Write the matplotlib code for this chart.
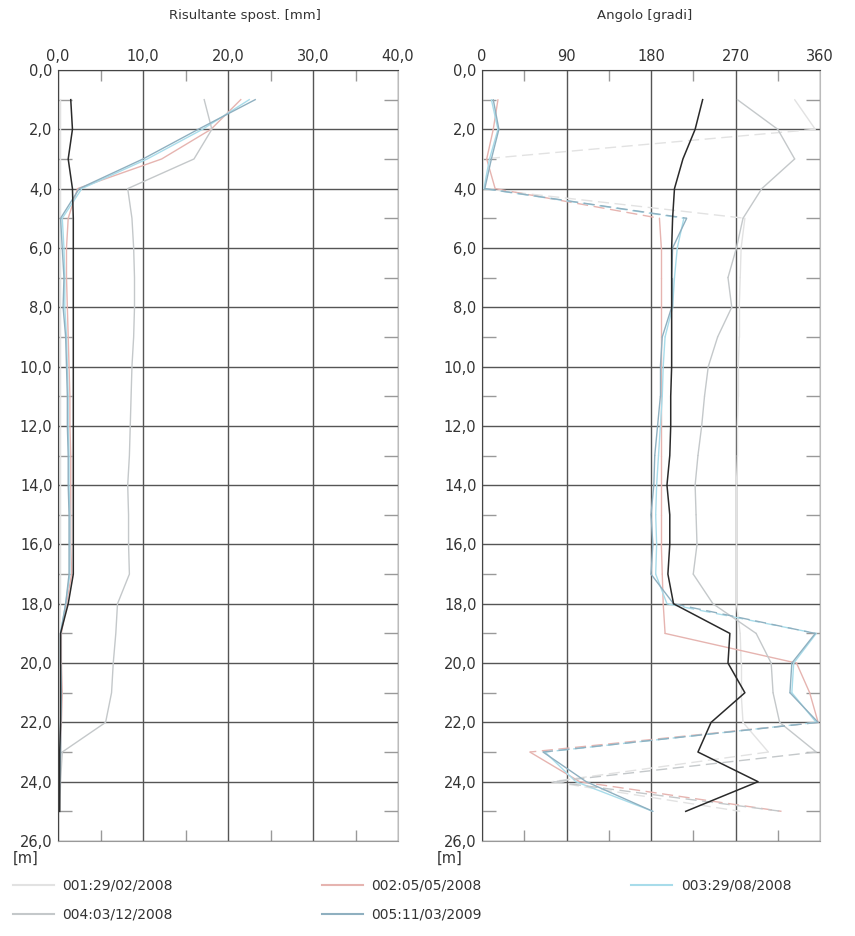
import matplotlib
matplotlib.use("Agg")
import matplotlib.pyplot as plt
from matplotlib.ticker import FixedLocator, FuncFormatter
import numpy as np

plt.rcParams['font.family'] = ['DejaVu Sans']
plt.rcParams['font.sans-serif'] = ['DejaVu Sans']

depth = list(range(1, 26))

labels = ["001:29/02/2008", "002:05/05/2008", "003:29/08/2008",
          "004:03/12/2008", "005:11/03/2009"]
colors = ["#e2e2e2", "#e6b4b0", "#a8dcea", "#c4c8ca", "#8fb0c0"]

# Resultant displacement [mm]
disp_ref = [1.5, 1.7, 1.2, 1.7, 1.8, 1.8, 1.8, 1.8, 1.8, 1.8, 1.8, 1.8, 1.8,
            1.8, 1.8, 1.8, 1.8, 1.2, 0.3, 0.3, 0.3, 0.3, 0.2, 0.2, 0.2]
disp_001 = [0.3, 0.3, 0.3, 0.3, 0.3, 0.3, 0.3, 0.3, 0.3, 0.3, 0.3, 0.3, 0.3,
            0.3, 0.3, 0.3, 0.3, 0.3, 0.2, 0.2, 0.2, 0.2, 0.2, 0.1, 0.1]
disp_002 = [21.5, 18.0, 12.2, 2.3, 1.2, 1.0, 1.0, 1.1, 1.2, 1.3, 1.4, 1.4, 1.5,
            1.5, 1.5, 1.5, 1.6, 1.0, 0.4, 0.4, 0.5, 0.4, 0.3, 0.2, 0.1]
disp_003 = [22.5, 17.0, 10.5, 2.8, 0.5, 0.7, 0.8, 0.8, 1.0, 1.1, 1.2, 1.2, 1.3,
            1.3, 1.4, 1.4, 1.4, 0.9, 0.3, 0.3, 0.4, 0.3, 0.3, 0.2, 0.1]
disp_004 = [17.2, 18.1, 16.0, 8.2, 8.7, 8.9, 9.0, 9.0, 8.9, 8.7, 8.6, 8.5, 8.4,
            8.2, 8.3, 8.3, 8.4, 7.0, 6.8, 6.5, 6.3, 5.6, 0.5, 0.3, 0.2]
disp_005 = [23.2, 16.5, 10.0, 2.5, 0.3, 0.5, 0.7, 0.6, 0.9, 1.0, 1.1, 1.1, 1.2,
            1.2, 1.3, 1.3, 1.3, 0.9, 0.3, 0.3, 0.4, 0.3, 0.3, 0.2, 0.1]

# Angle [degrees]
ang_ref = [235, 227, 214, 205, 203, 202, 202, 202, 202, 202, 201, 201, 200,
           197, 200, 200, 198, 204, 264, 262, 280, 244, 230, 294, 217]
ang_001 = [333, 355, 1, 0, 280, 276, 275, 274, 274, 273, 273, 272, 272,
           271, 271, 271, 271, 271, 275, 276, 276, 278, 305, 74, 275]
ang_002 = [17, 12, 5, 14, 189, 191, 191, 191, 191, 191, 191, 191, 191,
           191, 191, 191, 192, 193, 195, 335, 349, 358, 51, 104, 319]
ang_003 = [10, 17, 8, 2, 215, 208, 205, 203, 195, 193, 192, 190, 188,
           186, 185, 186, 185, 197, 356, 332, 330, 356, 67, 100, 182]
ang_004 = [272, 315, 333, 298, 278, 271, 262, 266, 251, 241, 237, 234, 230,
           227, 228, 229, 225, 246, 292, 308, 310, 317, 356, 76, 319]
ang_005 = [12, 18, 10, 3, 218, 203, 202, 202, 192, 190, 190, 187, 184,
           183, 180, 182, 180, 204, 355, 330, 328, 358, 65, 111, 182]

disp_series = [disp_001, disp_002, disp_003, disp_004, disp_005]
ang_series = [ang_001, ang_002, ang_003, ang_004, ang_005]

W, H = 855, 936
fig = plt.figure(figsize=(W / 100, H / 100), dpi=100)

def fx(px):
    return px / W

def fy(py):
    return 1 - py / H

ax1 = fig.add_axes([fx(58), fy(841), fx(398 - 58), (841 - 70) / H])
ax2 = fig.add_axes([fx(482), fy(841), fx(820 - 482), (841 - 70) / H])

grid_col = "#555555"
for ax in (ax1, ax2):
    ax.set_ylim(26, 0)
    ax.yaxis.set_major_locator(FixedLocator(np.arange(0, 27, 2)))
    ax.yaxis.set_minor_locator(FixedLocator(np.arange(1, 26, 2)))
    ax.yaxis.set_major_formatter(FuncFormatter(lambda v, p: f"{v:.1f}".replace(".", ",")))
    ax.xaxis.tick_top()
    ax.grid(True, which="major", color=grid_col, linewidth=1.0)
    ax.tick_params(axis="both", which="major", labelsize=10.5, length=0,
                   colors="#333333", pad=4)
    ax.tick_params(axis="y", which="minor", direction="in", length=10,
                   left=True, right=True, color="#999999", width=1)
    ax.tick_params(axis="x", which="minor", direction="in", length=8,
                   top=True, bottom=True, color="#999999", width=1)
    ax.spines["left"].set_color("#444444")
    ax.spines["top"].set_color("#444444")
    ax.spines["right"].set_color("#bbbbbb")
    ax.spines["bottom"].set_color("#999999")
    ax.set_axisbelow(True)

ax1.set_xlim(0, 40)
ax1.xaxis.set_major_locator(FixedLocator([0, 10, 20, 30, 40]))
ax1.xaxis.set_minor_locator(FixedLocator([5, 15, 25, 35]))
ax1.xaxis.set_major_formatter(FuncFormatter(lambda v, p: f"{v:.1f}".replace(".", ",")))

ax2.set_xlim(0, 360)
ax2.xaxis.set_major_locator(FixedLocator([0, 90, 180, 270, 360]))
ax2.xaxis.set_minor_locator(FixedLocator([45, 135, 225, 315]))
ax2.xaxis.set_major_formatter(FuncFormatter(lambda v, p: f"{int(v)}"))


def plot_angle(ax, ang, col, lw):
    # solid for normal steps, dashed where the angle wraps across 0/360
    a = np.asarray(ang, dtype=float)
    d = np.asarray(depth, dtype=float)
    for i in range(len(a) - 1):
        wrap = abs(a[i + 1] - a[i]) > 150
        ax.plot(a[i:i + 2], d[i:i + 2], color=col, linewidth=lw,
                linestyle=(0, (8, 4)) if wrap else "-",
                solid_capstyle="round")


handles = []
for lab, col, d, a in zip(labels, colors, disp_series, ang_series):
    h, = ax1.plot(d, depth, color=col, linewidth=1.0, label=lab)
    plot_angle(ax2, a, col, 1.0)
    handles.append(h)
ax1.plot(disp_ref, depth, color="#2a2a2a", linewidth=1.1)
ax2.plot(ang_ref, depth, color="#2a2a2a", linewidth=1.1)

fig.text(fx(245), fy(15), "Risultante spost. [mm]", ha="center", va="center",
         fontsize=9.5, color="#333333")
fig.text(fx(645), fy(15), "Angolo [gradi]", ha="center", va="center",
         fontsize=9.5, color="#333333")
fig.text(fx(26), fy(858), "[m]", ha="center", va="center", fontsize=10.5, color="#333333")
fig.text(fx(450), fy(858), "[m]", ha="center", va="center", fontsize=10.5, color="#333333")

order = [0, 3, 1, 4, 2]
leg = fig.legend([handles[i] for i in order], [labels[i] for i in order],
                 ncol=3, loc="upper left", bbox_to_anchor=(fx(0), fy(866)),
                 frameon=False, fontsize=10, handlelength=3.0, handletextpad=0.6,
                 columnspacing=10.7, labelspacing=1.1, labelcolor="#333333")
for lh in leg.get_lines():
    lh.set_linewidth(1.5)

fig.savefig("out.png", dpi=100, facecolor="white")
